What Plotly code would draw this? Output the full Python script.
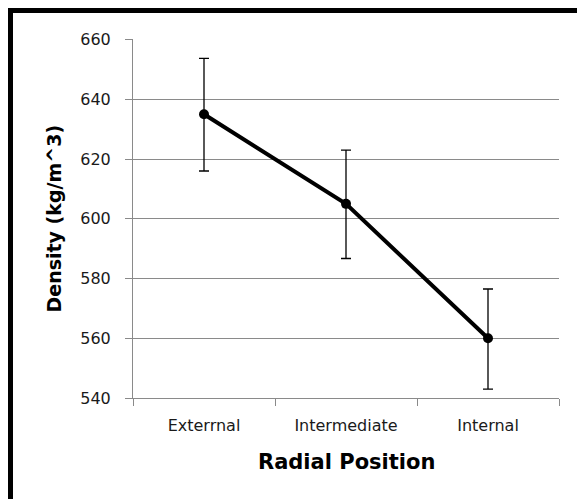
import plotly.graph_objects as go

categories = ["Exterrnal", "Intermediate", "Internal"]
density = [635, 605, 560]
err_plus = [18.7, 18.0, 16.5]
err_minus = [19.0, 18.3, 17.0]
y_ticks = [540, 560, 580, 600, 620, 640, 660]

OFF = 8  # page body margin in the browser
W, H = 585 - OFF, 499 - OFF
L, T = 133 - OFF, 39 - OFF
R = W - (559 - OFF)
B = H - (398 - OFF)
pw, ph = W - L - R, H - T - B

fig = go.Figure()
fig.add_trace(go.Scatter(
    x=categories, y=density, mode="lines+markers",
    line=dict(color="black", width=4),
    marker=dict(color="black", size=10),
    error_y=dict(type="data", symmetric=False, array=err_plus, arrayminus=err_minus,
                 color="black", thickness=1.3, width=5),
    showlegend=False,
))

bx = (10.5 - OFF - L) / pw
by = 1 + (T - (10.5 - OFF)) / ph
grid = "#8a8a8a"
fig.update_layout(
    width=W, height=H,
    margin=dict(l=L, r=R, t=T, b=B),
    paper_bgcolor="white", plot_bgcolor="white",
    font=dict(family="DejaVu Sans", color="#1a1a1a"),
    xaxis=dict(
        range=[-0.5, 2.5], tickson="boundaries", ticks="outside", ticklen=7,
        tickcolor=grid, showgrid=False, showline=True, linecolor=grid, linewidth=1,
        tickfont=dict(size=16, family="DejaVu Sans", color="#1a1a1a"),
        ticklabelstandoff=13, fixedrange=True,
    ),
    yaxis=dict(
        range=[540, 660.2], tickvals=y_ticks, ticks="outside", ticklen=7,
        tickcolor=grid, showgrid=True, gridcolor=grid, gridwidth=1,
        showline=True, linecolor=grid, linewidth=1, zeroline=False,
        tickfont=dict(size=16, family="DejaVu Sans", color="#1a1a1a"),
        ticklabelstandoff=11, fixedrange=True,
    ),
    annotations=[
        dict(text="<b>Radial Position</b>", xref="paper", yref="paper", x=0.5, y=0,
             xanchor="center", yanchor="middle", yshift=-64, showarrow=False,
             font=dict(size=21, family="DejaVu Sans", color="black")),
        dict(text="<b>Density (kg/m^3)</b>", xref="paper", yref="paper", x=0, y=0.5,
             xanchor="center", yanchor="middle", xshift=-80, textangle=-90, showarrow=False,
             font=dict(size=19, family="DejaVu Sans", color="black")),
    ],
    shapes=[
        dict(type="line", xref="paper", yref="paper", x0=bx, x1=bx, y0=-1.0, y1=by + 2.5 / ph,
             line=dict(color="black", width=5), layer="above"),
        dict(type="line", xref="paper", yref="paper", x0=bx - 2.5 / pw, x1=3.0, y0=by, y1=by,
             line=dict(color="black", width=5), layer="above"),
    ],
)

fig.write_html("out.html")
